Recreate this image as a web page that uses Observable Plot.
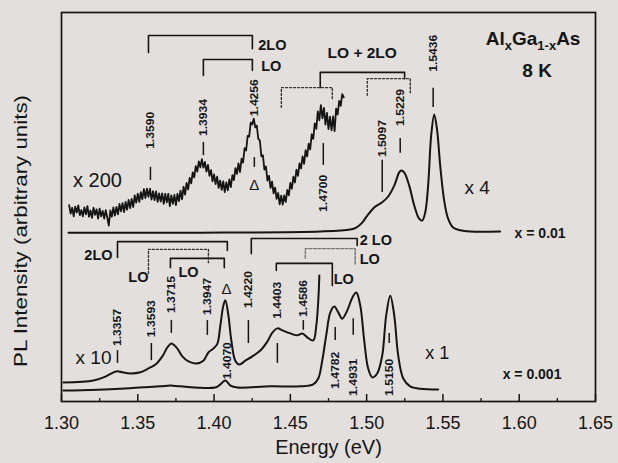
<!DOCTYPE html>
<html><head><meta charset="utf-8">
<script src="https://cdn.jsdelivr.net/npm/d3@7"></script>
<script src="https://cdn.jsdelivr.net/npm/@observablehq/plot@0.6"></script>
<style>
html,body{margin:0;padding:0;background:#e2dfdc;}
#chart{width:618px;height:463px;}
</style></head><body><div id="chart"></div>
<script>
// ---------- data (energy in eV, PL intensity in arbitrary units 0..100) ----------
const energyTicks = [1.30, 1.35, 1.40, 1.45, 1.50, 1.55, 1.60, 1.65];
const minorTicks = [1.325, 1.375, 1.425, 1.475, 1.525, 1.575, 1.625];

// x = 0.01, magnified x200 (noisy trace)
const curveX200 = [
 [1.305,50.5],[1.306,48.3],[1.307,49.8],[1.308,47.6],[1.309,50.1],[1.310,48.6],[1.311,50.4],[1.312,47.9],
 [1.313,49.2],[1.314,47.6],[1.315,49.9],[1.316,48.1],[1.317,50.2],[1.318,47.5],[1.319,49.1],[1.320,47.2],
 [1.321,49.8],[1.322,48.0],[1.323,49.4],[1.324,47.0],[1.325,49.6],[1.326,47.6],[1.327,49.0],[1.328,47.0],
 [1.329,49.2],[1.330,47.3],[1.331,45.2],[1.332,49.1],[1.333,47.5],[1.334,49.9],[1.335,47.8],[1.336,50.0],
 [1.337,48.1],[1.338,50.8],[1.339,48.9],[1.340,51.0],[1.341,48.7],[1.342,51.3],[1.343,49.3],[1.344,51.8],
 [1.345,49.7],[1.346,52.1],[1.347,50.0],[1.348,53.0],[1.349,51.1],[1.350,53.4],[1.351,51.3],[1.352,53.8],
 [1.353,52.0],[1.354,54.6],[1.355,52.3],[1.356,54.7],[1.357,52.6],[1.358,54.7],[1.359,51.9],[1.360,54.1],
 [1.361,51.8],[1.362,54.0],[1.363,51.3],[1.364,53.5],[1.365,51.4],[1.366,53.5],[1.367,50.8],[1.368,53.4],
 [1.369,51.2],[1.370,53.4],[1.371,50.2],[1.372,53.0],[1.373,50.8],[1.374,53.1],[1.375,50.5],[1.376,53.4],
 [1.377,51.5],[1.378,54.2],[1.379,52.0],[1.380,55.2],[1.381,53.2],[1.382,56.2],[1.383,54.5],[1.384,57.5],
 [1.385,56.1],[1.386,58.9],[1.387,57.6],[1.388,60.5],[1.389,59.1],[1.390,61.7],[1.391,60.2],[1.392,62.3],
 [1.393,60.1],[1.394,61.6],[1.395,59.1],[1.396,60.8],[1.397,58.0],[1.398,59.5],[1.399,56.6],[1.400,58.4],
 [1.401,55.9],[1.402,57.8],[1.403,54.9],[1.404,56.8],[1.405,54.4],[1.406,56.6],[1.407,53.8],[1.408,56.3],
 [1.409,54.3],[1.410,57.1],[1.411,55.1],[1.412,58.2],[1.413,56.9],[1.414,60.0],[1.415,58.5],[1.416,61.2],
 [1.417,59.0],[1.418,62.4],[1.419,61.4],[1.420,65.1],[1.421,64.5],[1.422,68.3],[1.423,68.1],[1.424,71.7],
 [1.425,71.2],[1.426,72.7],[1.427,70.5],[1.428,70.9],[1.429,67.5],[1.430,67.1],[1.431,63.0],[1.432,63.3],
 [1.433,59.6],[1.434,60.4],[1.435,56.8],[1.436,58.0],[1.437,54.9],[1.438,56.5],[1.439,53.5],[1.440,55.0],
 [1.441,52.1],[1.442,53.6],[1.443,50.7],[1.444,52.9],[1.445,50.6],[1.446,53.0],[1.447,51.3],[1.448,54.4],
 [1.449,53.0],[1.450,56.2],[1.451,54.7],[1.452,57.8],[1.453,56.3],[1.454,59.6],[1.455,58.0],[1.456,61.2],
 [1.457,59.9],[1.458,63.0],[1.459,61.1],[1.460,64.6],[1.461,63.0],[1.462,66.3],[1.463,64.8],[1.464,68.7],
 [1.465,67.5],[1.466,71.5],[1.467,70.1],[1.468,74.6],[1.469,72.3],[1.470,76.2],[1.471,72.8],[1.472,75.5],
 [1.473,71.2],[1.474,74.2],[1.475,70.0],[1.476,73.2],[1.477,69.7],[1.478,73.3],[1.479,69.5],[1.480,75.3],
 [1.481,73.8],[1.482,77.3],[1.483,76.0],[1.484,79.0],[1.485,78.2]
];

// x = 0.01, x4
const curveX4 = [
 [1.3046,43.4],[1.391,43.4],[1.4696,43.7],[1.4893,44.2],[1.4932,44.7],[1.4971,46.0],[1.5010,48.1],
 [1.5056,50.1],[1.5102,51.2],[1.5141,52.7],[1.5181,55.5],[1.5213,58.9],[1.5226,59.4],[1.5246,58.9],
 [1.5279,55.5],[1.5312,50.4],[1.5344,47.0],[1.5364,46.5],[1.5384,48.6],[1.5403,55.5],[1.5423,68.4],
 [1.5443,73.8],[1.5462,69.7],[1.5482,60.7],[1.5508,51.7],[1.5534,47.0],[1.5567,44.7],[1.5613,44.0],
 [1.5678,43.7],[1.5875,43.7]
];

// x = 0.001, x10
const curveX10 = [
 [1.3013,4.9],[1.3210,5.4],[1.3288,6.4],[1.3341,7.5],[1.3367,7.8],[1.3399,7.5],[1.3452,7.2],[1.3517,7.5],
 [1.3570,8.5],[1.3616,9.5],[1.3661,11.6],[1.3694,13.9],[1.3720,14.9],[1.3753,13.9],[1.3792,11.6],
 [1.3832,10.3],[1.3884,9.8],[1.3930,10.5],[1.3963,12.6],[1.3995,13.6],[1.4022,14.9],[1.4041,19.5],
 [1.4061,24.7],[1.4074,26.0],[1.4094,22.1],[1.4113,15.7],[1.4139,10.5],[1.4166,9.5],[1.4205,10.5],
 [1.4251,11.6],[1.4303,13.1],[1.4349,15.4],[1.4382,17.7],[1.4415,18.8],[1.4447,18.3],[1.4500,17.5],
 [1.4545,17.0],[1.4578,17.5],[1.4611,16.5],[1.4650,15.7],[1.4670,19.5],[1.4683,26.0],[1.4690,32.4]
];

// x = 0.001, x1
const curveX1 = [
 [1.3013,2.8],[1.3386,3.3],[1.3648,3.9],[1.3714,4.1],[1.3779,3.9],[1.4008,3.6],[1.4041,4.4],[1.4074,5.4],
 [1.4107,4.1],[1.4153,3.6],[1.4369,3.9],[1.4565,3.9],[1.4650,4.4],[1.4683,5.9],[1.4709,10.5],[1.4735,17.0],
 [1.4762,22.9],[1.4788,24.4],[1.4814,22.9],[1.4840,21.3],[1.4873,23.4],[1.4906,26.7],[1.4932,28.0],
 [1.4958,24.7],[1.4984,15.7],[1.5010,8.5],[1.5037,6.2],[1.5069,7.2],[1.5102,11.8],[1.5128,22.1],
 [1.5155,27.2],[1.5181,22.1],[1.5207,11.8],[1.5240,5.9],[1.5285,3.9],[1.5351,3.3],[1.5469,3.1]
];

// peak labels: [text, energy, label centre level, marker top, marker bottom]
const upperPeaks = [
 ["1.3590",1.3583,69.7,60.2,56.8],["1.3934",1.3930,73.0,66.6,63.2],["1.4256",1.4264,78.1,62.7,60.2],
 ["1.4700",1.4716,53.5,66.3,60.7],["1.5097",1.5102,67.6,62.0,53.7],["1.5229",1.5220,75.6,67.6,63.8],
 ["1.5436",1.5436,89.5,80.5,75.6]
];
const lowerPeaks = [
 ["1.3357",1.3367,19.0,13.1,9.8],["1.3593",1.3589,21.3,14.9,10.5],["1.3715",1.3720,27.5,20.8,17.5],
 ["1.3947",1.3956,27.0,20.8,17.0],["1.4070",1.4087,10.5,null,null],["1.4220",1.4225,28.8,20.8,14.9],
 ["1.4403",1.4415,26.0,14.9,9.8],["1.4586",1.4585,26.5,20.8,18.3],["1.4782",1.4794,8.0,19.0,15.7],
 ["1.4931",1.4912,6.2,21.3,17.0],["1.5150",1.5148,6.2,17.5,14.9]
];

// phonon-replica brackets: [left energy, right energy, top level, left leg end, right leg end]
const solidBrackets = [
 [1.3570,1.4251,94.1,89.7,90.7],[1.3930,1.4251,87.9,83.8,85.1],[1.4696,1.5249,84.6,80.7,83.0],
 [1.3367,1.4087,41.1,37.0,38.8],[1.3714,1.4067,36.8,34.4,34.4],[1.4244,1.4938,41.9,38.0,40.1],
 [1.4408,1.4775,35.5,33.7,29.8]
];
const dottedBrackets = [
 [1.4441,1.4775,80.7,75.6,77.9],[1.5004,1.5286,83.0,78.7,79.4],[1.3570,1.3963,39.1,32.9,35.7]
];
const grayBrackets = [
 [1.4598,1.4925,39.3,36.8,35.0]
];

// annotation texts: [text, energy, level, size]
const boldNotes = [
 ["2LO",1.4382,91.5,14.5],["LO",1.4375,86.1,14.5],["LO + 2LO",1.4971,89.5,15.5],
 ["AlxGa1-xAs",1.6091,93.3,19],["8 K",1.6117,85.1,19],["x = 0.01",1.6137,43.2,14],
 ["2LO",1.3242,37.5,14.5],["LO",1.3504,31.9,14.5],["LO",1.3832,33.2,14.5],
 ["2 LO",1.5060,41.4,14.5],["LO",1.5020,36.5,14.5],["LO",1.4850,31.4,14.5],
 ["x = 0.001",1.6084,6.9,14]
];
const plainNotes = [
 ["x 200",1.3236,56.8,20],["x 4",1.5724,54.8,19],["x 10",1.3210,11.1,19],["x 1",1.5462,12.3,18],
 ["Δ",1.4264,55.5,15],["Δ",1.4081,29.0,15]
];

// ---------- drawing ----------
const ink = "#151515";
const px = d => d[0], py = d => d[1];
const bracketPath = b => [[b[0], b[3]], [b[0], b[2]], [b[1], b[2]], [b[1], b[4]]];
const bracketMarks = (list, opts) => list.map(b => Plot.line(bracketPath(b), {x: px, y: py, stroke: ink, strokeWidth: 1.6, ...opts}));
const allPeaks = upperPeaks.concat(lowerPeaks);

const chart = Plot.plot({
  width: 618, height: 463,
  marginLeft: 61, marginRight: 23, marginTop: 12, marginBottom: 62,
  x: {domain: [1.30, 1.65]},
  y: {domain: [0, 100], axis: null},
  style: {fontFamily: "'Liberation Sans', Arial, Helvetica, sans-serif", background: "transparent", color: ink},
  marks: [
    Plot.frame({stroke: ink, strokeWidth: 1.7}),
    Plot.tickX(energyTicks, {x: d => d, insetTop: 382, stroke: ink, strokeWidth: 1.5}),
    Plot.tickX(minorTicks, {x: d => d, insetTop: 386, stroke: ink, strokeWidth: 1.3}),
    Plot.axisX({ticks: energyTicks, tickSize: 0, tickPadding: 15, tickFormat: d3.format(".2f"), fontSize: 18, label: null}),
    Plot.text(["Energy (eV)"], {frameAnchor: "bottom", text: d => d, dy: 52, fontSize: 20, fill: ink}),
    Plot.text(["PL Intensity (arbitrary units)"], {frameAnchor: "left", textAnchor: "middle", text: d => d, dx: -41, dy: 24, rotate: -90, fontSize: 19, fill: ink}),
    Plot.line(curveX4, {x: px, y: py, stroke: ink, strokeWidth: 2, curve: "catmull-rom"}),
    Plot.line(curveX200, {x: px, y: py, stroke: ink, strokeWidth: 1.8}),
    Plot.line(curveX10, {x: px, y: py, stroke: ink, strokeWidth: 2, curve: "catmull-rom"}),
    Plot.line(curveX1, {x: px, y: py, stroke: ink, strokeWidth: 2, curve: "catmull-rom"}),
    ...bracketMarks(solidBrackets, {}),
    ...bracketMarks(dottedBrackets, {strokeDasharray: "2,2", strokeWidth: 1.4, stroke: "#333"}),
    ...bracketMarks(grayBrackets, {strokeDasharray: "3,1.5", strokeWidth: 1.4, stroke: "#777"}),
    Plot.ruleX(allPeaks.filter(d => d[3] != null), {x: d => d[1], y1: d => d[3], y2: d => d[4], stroke: ink, strokeWidth: 1.5}),
    Plot.text(allPeaks, {x: d => d[1], y: d => d[2], text: d => d[0], rotate: -90, fontSize: 11, fontWeight: "bold", fill: ink}),
    Plot.text(boldNotes, {x: d => d[1], y: d => d[2], text: d => d[0], fontSize: d => d[3], fontWeight: "bold", fill: ink}),
    Plot.text(plainNotes, {x: d => d[1], y: d => d[2], text: d => d[0], fontSize: d => d[3], fill: ink})
  ]
});
document.getElementById("chart").appendChild(chart);

// subscripts for the alloy formula, and stretched labels as in the print
d3.select(chart).selectAll("text").each(function() {
  const t = this.textContent;
  if (t === "AlxGa1-xAs") {
    this.innerHTML = 'Al<tspan dy="5" font-size="13">x</tspan><tspan dy="-5">Ga</tspan><tspan dy="5" font-size="13">1-x</tspan><tspan dy="-5">As</tspan>';
  } else if (/^1\.\d{4}$/.test(t)) {
    this.setAttribute("textLength", 37);
    this.setAttribute("lengthAdjust", "spacingAndGlyphs");
  } else if (t === "PL Intensity (arbitrary units)") {
    this.setAttribute("textLength", 272);
    this.setAttribute("lengthAdjust", "spacingAndGlyphs");
  }
});
</script></body></html>
